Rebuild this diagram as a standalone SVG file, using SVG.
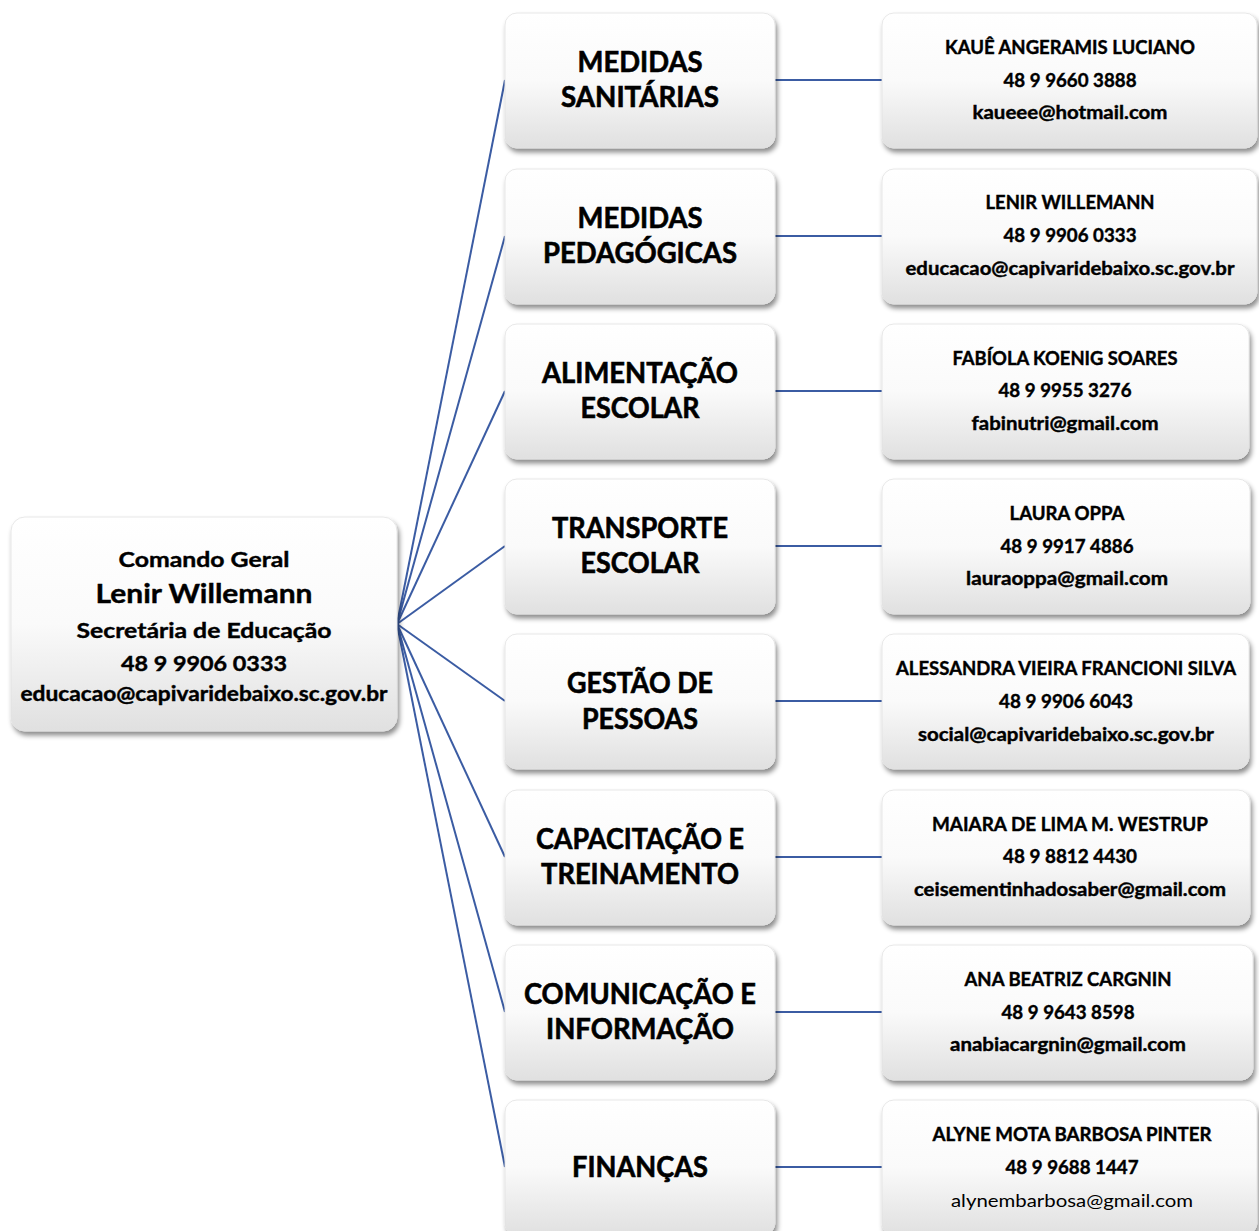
<svg xmlns="http://www.w3.org/2000/svg" width="1259" height="1231" viewBox="0 0 1259 1231">
<defs>
<linearGradient id="g" x1="0" y1="0" x2="0" y2="1">
<stop offset="0" stop-color="#ffffff"/>
<stop offset="0.5" stop-color="#fafafa"/>
<stop offset="1" stop-color="#e0e0e0"/>
</linearGradient>
<filter id="sh" x="-10%" y="-10%" width="125%" height="130%">
<feDropShadow dx="2" dy="4" stdDeviation="2.5" flood-color="#000" flood-opacity="0.45"/>
</filter>
</defs>
<style>
.box{fill:url(#g);stroke:#e2e2e2;stroke-width:0.8;filter:url(#sh)}
.c{stroke:#3b5ca3;stroke-width:2;fill:none}
text{font-family:Lato,"Noto Sans",sans-serif;font-weight:bold;fill:#000;text-anchor:middle;stroke:#000;stroke-width:0.4}
.m{font-size:28px;stroke-width:0.6}
.r{font-size:18px}
.rn{font-size:18px;font-weight:normal;stroke-width:0}
</style>
<rect width="1259" height="1231" fill="#fff"/>
<g id="connectors">
<line class="c" x1="397" y1="624" x2="505" y2="80"/>
<line class="c" x1="397" y1="624" x2="505" y2="236"/>
<line class="c" x1="397" y1="624" x2="505" y2="391"/>
<line class="c" x1="397" y1="624" x2="505" y2="546"/>
<line class="c" x1="397" y1="624" x2="505" y2="701"/>
<line class="c" x1="397" y1="624" x2="505" y2="857"/>
<line class="c" x1="397" y1="624" x2="505" y2="1012"/>
<line class="c" x1="397" y1="624" x2="505" y2="1167"/>
<line class="c" x1="775" y1="80" x2="882" y2="80"/>
<line class="c" x1="775" y1="236" x2="882" y2="236"/>
<line class="c" x1="775" y1="391" x2="882" y2="391"/>
<line class="c" x1="775" y1="546" x2="882" y2="546"/>
<line class="c" x1="775" y1="701" x2="882" y2="701"/>
<line class="c" x1="775" y1="857" x2="882" y2="857"/>
<line class="c" x1="775" y1="1012" x2="882" y2="1012"/>
<line class="c" x1="775" y1="1167" x2="882" y2="1167"/>
</g>
<g id="root">
<rect class="box" x="11" y="517" width="386" height="214" rx="14"/>
<text x="204" y="567" font-size="21" textLength="171" lengthAdjust="spacingAndGlyphs">Comando Geral</text>
<text x="204" y="603" font-size="26" textLength="217" lengthAdjust="spacingAndGlyphs">Lenir Willemann</text>
<text x="204" y="638" font-size="21" textLength="255" lengthAdjust="spacingAndGlyphs">Secretária de Educação</text>
<text x="204" y="671" font-size="21" textLength="166" lengthAdjust="spacingAndGlyphs">48 9 9906 0333</text>
<text x="204" y="701" font-size="20" textLength="367" lengthAdjust="spacingAndGlyphs">educacao@capivaridebaixo.sc.gov.br</text>
</g>
<g id="m1"><rect class="box" x="505" y="13" width="270" height="135" rx="12"/>
<text class="m" x="640" y="72" textLength="125" lengthAdjust="spacingAndGlyphs">MEDIDAS</text>
<text class="m" x="640" y="107" textLength="158" lengthAdjust="spacingAndGlyphs">SANITÁRIAS</text></g>
<g id="m2"><rect class="box" x="505" y="169" width="270" height="135" rx="12"/>
<text class="m" x="640" y="228" textLength="125" lengthAdjust="spacingAndGlyphs">MEDIDAS</text>
<text class="m" x="640" y="263" textLength="194" lengthAdjust="spacingAndGlyphs">PEDAGÓGICAS</text></g>
<g id="m3"><rect class="box" x="505" y="324" width="270" height="135" rx="12"/>
<text class="m" x="640" y="383" textLength="196" lengthAdjust="spacingAndGlyphs">ALIMENTAÇÃO</text>
<text class="m" x="640" y="418" textLength="119" lengthAdjust="spacingAndGlyphs">ESCOLAR</text></g>
<g id="m4"><rect class="box" x="505" y="479" width="270" height="135" rx="12"/>
<text class="m" x="640" y="538" textLength="176" lengthAdjust="spacingAndGlyphs">TRANSPORTE</text>
<text class="m" x="640" y="573" textLength="119" lengthAdjust="spacingAndGlyphs">ESCOLAR</text></g>
<g id="m5"><rect class="box" x="505" y="634" width="270" height="135" rx="12"/>
<text class="m" x="640" y="693" textLength="146" lengthAdjust="spacingAndGlyphs">GESTÃO DE</text>
<text class="m" x="640" y="729" textLength="116" lengthAdjust="spacingAndGlyphs">PESSOAS</text></g>
<g id="m6"><rect class="box" x="505" y="790" width="270" height="135" rx="12"/>
<text class="m" x="640" y="849" textLength="208" lengthAdjust="spacingAndGlyphs">CAPACITAÇÃO E</text>
<text class="m" x="640" y="884" textLength="198" lengthAdjust="spacingAndGlyphs">TREINAMENTO</text></g>
<g id="m7"><rect class="box" x="505" y="945" width="270" height="135" rx="12"/>
<text class="m" x="640" y="1004" textLength="232" lengthAdjust="spacingAndGlyphs">COMUNICAÇÃO E</text>
<text class="m" x="640" y="1039" textLength="188" lengthAdjust="spacingAndGlyphs">INFORMAÇÃO</text></g>
<g id="m8"><rect class="box" x="505" y="1100" width="270" height="135" rx="12"/>
<text class="m" x="640" y="1177" textLength="136" lengthAdjust="spacingAndGlyphs">FINANÇAS</text></g>
<g id="r1"><rect class="box" x="882" y="13" width="375" height="135" rx="12"/>
<text class="r" x="1070" y="54" textLength="250" lengthAdjust="spacingAndGlyphs">KAUÊ ANGERAMIS LUCIANO</text>
<text class="r" x="1070" y="87" textLength="133" lengthAdjust="spacingAndGlyphs">48 9 9660 3888</text>
<text class="r" x="1070" y="119" textLength="195" lengthAdjust="spacingAndGlyphs">kaueee@hotmail.com</text></g>
<g id="r2"><rect class="box" x="882" y="169" width="375" height="135" rx="12"/>
<text class="r" x="1070" y="209" textLength="169" lengthAdjust="spacingAndGlyphs">LENIR WILLEMANN</text>
<text class="r" x="1070" y="242" textLength="133" lengthAdjust="spacingAndGlyphs">48 9 9906 0333</text>
<text class="r" x="1070" y="275" textLength="329" lengthAdjust="spacingAndGlyphs">educacao@capivaridebaixo.sc.gov.br</text></g>
<g id="r3"><rect class="box" x="882" y="324" width="367" height="135" rx="12"/>
<text class="r" x="1065" y="365" textLength="225" lengthAdjust="spacingAndGlyphs">FABÍOLA KOENIG SOARES</text>
<text class="r" x="1065" y="397" textLength="133" lengthAdjust="spacingAndGlyphs">48 9 9955 3276</text>
<text class="r" x="1065" y="430" textLength="187" lengthAdjust="spacingAndGlyphs">fabinutri@gmail.com</text></g>
<g id="r4"><rect class="box" x="882" y="479" width="368" height="135" rx="12"/>
<text class="r" x="1067" y="520" textLength="115" lengthAdjust="spacingAndGlyphs">LAURA OPPA</text>
<text class="r" x="1067" y="553" textLength="133" lengthAdjust="spacingAndGlyphs">48 9 9917 4886</text>
<text class="r" x="1067" y="585" textLength="202" lengthAdjust="spacingAndGlyphs">lauraoppa@gmail.com</text></g>
<g id="r5"><rect class="box" x="882" y="634" width="367" height="135" rx="12"/>
<text class="r" x="1066" y="675" textLength="340" lengthAdjust="spacingAndGlyphs">ALESSANDRA VIEIRA FRANCIONI SILVA</text>
<text class="r" x="1066" y="708" textLength="134" lengthAdjust="spacingAndGlyphs">48 9 9906 6043</text>
<text class="r" x="1066" y="741" textLength="296" lengthAdjust="spacingAndGlyphs">social@capivaridebaixo.sc.gov.br</text></g>
<g id="r6"><rect class="box" x="882" y="790" width="368" height="135" rx="12"/>
<text class="r" x="1070" y="831" textLength="276" lengthAdjust="spacingAndGlyphs">MAIARA DE LIMA M. WESTRUP</text>
<text class="r" x="1070" y="863" textLength="134" lengthAdjust="spacingAndGlyphs">48 9 8812 4430</text>
<text class="r" x="1070" y="896" textLength="312" lengthAdjust="spacingAndGlyphs">ceisementinhadosaber@gmail.com</text></g>
<g id="r7"><rect class="box" x="882" y="945" width="371" height="135" rx="12"/>
<text class="r" x="1068" y="986" textLength="207" lengthAdjust="spacingAndGlyphs">ANA BEATRIZ CARGNIN</text>
<text class="r" x="1068" y="1019" textLength="133" lengthAdjust="spacingAndGlyphs">48 9 9643 8598</text>
<text class="r" x="1068" y="1051" textLength="236" lengthAdjust="spacingAndGlyphs">anabiacargnin@gmail.com</text></g>
<g id="r8"><rect class="box" x="882" y="1100" width="375" height="135" rx="12"/>
<text class="r" x="1072" y="1141" textLength="279" lengthAdjust="spacingAndGlyphs">ALYNE MOTA BARBOSA PINTER</text>
<text class="r" x="1072" y="1174" textLength="133" lengthAdjust="spacingAndGlyphs">48 9 9688 1447</text>
<text class="rn" x="1072" y="1207" textLength="242" lengthAdjust="spacingAndGlyphs">alynembarbosa@gmail.com</text></g>
</svg>
